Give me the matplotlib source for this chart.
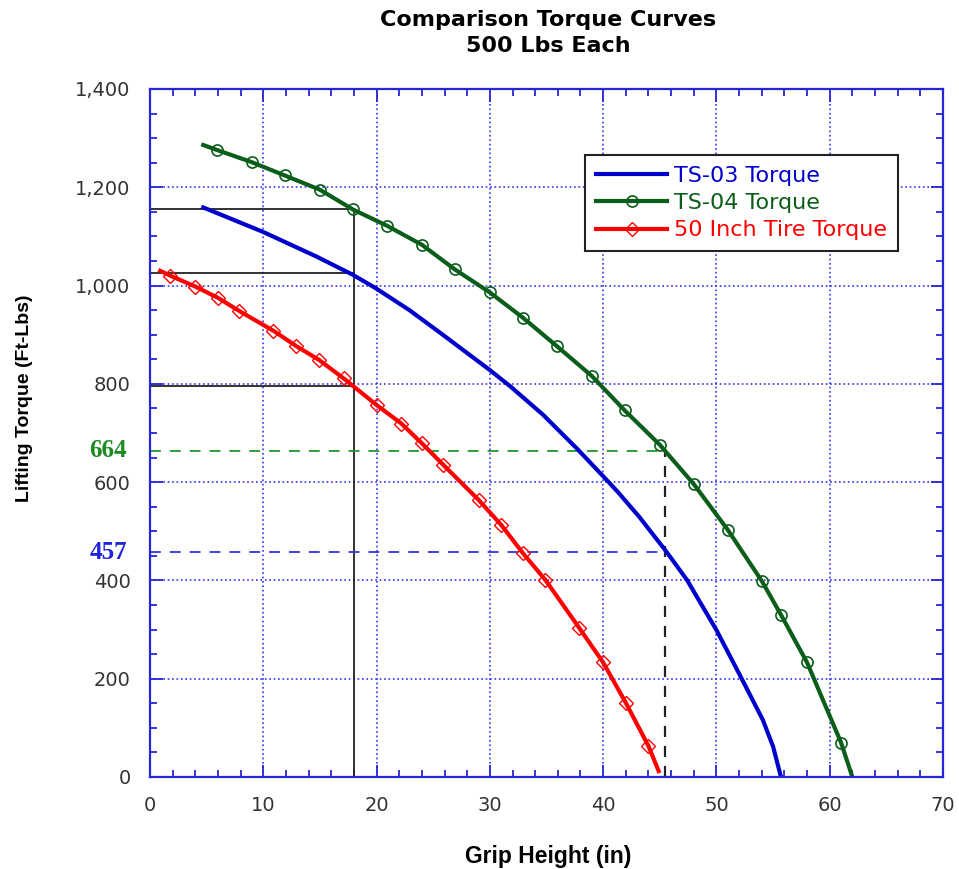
import numpy as np
import matplotlib
matplotlib.use('Agg')
from matplotlib import pyplot as plt
from matplotlib.ticker import MultipleLocator, FuncFormatter
import matplotlib.transforms as mtransforms

# TS-03 torque (no markers)
ts03_x = [4.7, 10, 14.7, 17.9, 19.9, 22.9, 25.9, 30, 31.8, 34.7, 37.7, 40, 41.3, 43.2, 45.6, 47.4, 50, 52.3, 54.1, 55.0, 55.7]
ts03_y = [1159, 1109, 1059, 1022, 995, 950, 899, 828, 795, 737, 668, 612, 580, 529, 458, 401, 299, 197, 116, 62, 0]

# TS-04 torque, first/last are line ends, the rest carry markers
ts04_x = [4.7, 5.9, 9, 11.9, 15, 17.9, 20.9, 24, 26.9, 30, 32.9, 35.9, 39, 41.9, 45, 48, 51, 54, 55.7, 58, 61, 62]
ts04_y = [1286, 1276, 1251, 1224, 1195, 1155, 1122, 1083, 1033, 986, 935, 877, 816, 746, 676, 596, 503, 399, 330, 233, 70, 0]

# 50 inch tire torque
tire_x = [0.9, 1.8, 4, 6, 7.9, 10.9, 12.9, 14.9, 17.1, 20, 22.2, 24, 25.9, 29, 31, 32.9, 34.9, 37.9, 40, 42, 44, 44.9]
tire_y = [1030, 1020, 998, 975, 948, 908, 877, 849, 811, 757, 719, 679, 635, 564, 513, 456, 401, 303, 233, 151, 63, 12]

# reference readings
grip_a = 18
grip_a_vals = [1155, 1025, 795]
grip_b = 45.5
val_ts04 = 664
val_ts03 = 457

BLUE = '#0000CC'
GREEN = '#0B5E1A'
RED = '#FF0000'
AXBLUE = '#2626D9'

fig = plt.figure(figsize=(9.59, 8.69), dpi=100)
ax = fig.add_axes([150 / 959, 1 - 777 / 869, 793 / 959, 688 / 869])

ax.set_xlim(0, 70)
ax.set_ylim(0, 1400)

# grid
ax.grid(True, which='major', color='#3333EE', linestyle=':', linewidth=1.2)
ax.set_axisbelow(True)

# reference lines
ax.plot([grip_a, grip_a], [0, max(grip_a_vals)], color='#222222', lw=1.3)
for v in grip_a_vals:
    ax.plot([0, grip_a], [v, v], color='#222222', lw=1.3)
ax.plot([0, grip_b], [val_ts04, val_ts04], color='#22962A', lw=1.3, dashes=(6, 5))
ax.plot([0, grip_b], [val_ts03, val_ts03], color='#3333E0', lw=1.3, dashes=(6, 5))
ax.plot([grip_b, grip_b], [0, val_ts04], color='#222222', lw=1.6, dashes=(5, 4))

# curves
ax.plot(ts03_x, ts03_y, color=BLUE, lw=3, label='TS-03 Torque')
ax.plot(ts04_x, ts04_y, color=GREEN, lw=3, marker='o', markersize=8,
        markerfacecolor='none', markeredgewidth=1.2,
        markevery=list(range(1, len(ts04_x) - 1)), label='TS-04 Torque')
ax.plot(tire_x, tire_y, color=RED, lw=3, marker='D', markersize=7,
        markerfacecolor='none', markeredgewidth=1.0,
        markevery=list(range(1, len(tire_x) - 1)), label='50 Inch Tire Torque')

# axes style
for s in ax.spines.values():
    s.set_color(AXBLUE)
    s.set_linewidth(1.6)
ax.xaxis.set_major_locator(MultipleLocator(10))
ax.xaxis.set_minor_locator(MultipleLocator(2))
ax.yaxis.set_major_locator(MultipleLocator(200))
ax.yaxis.set_minor_locator(MultipleLocator(50))
ax.yaxis.set_major_formatter(FuncFormatter(lambda v, p: '{:,.0f}'.format(v)))
ax.tick_params(which='both', direction='in', top=True, right=True, color=AXBLUE, width=1.3)
ax.tick_params(which='major', length=9, labelsize=14, labelcolor='#333333')
ax.tick_params(which='minor', length=5)
ax.tick_params(axis='x', pad=14)
ax.tick_params(axis='y', pad=14)
for lab in ax.get_xticklabels() + ax.get_yticklabels():
    lab.set_family('DejaVu Sans')

# highlighted values on the y axis
trans = mtransforms.blended_transform_factory(ax.transAxes, ax.transData)
ax.text(-0.029, val_ts04, str(val_ts04), transform=trans, ha='right', va='center',
        color='#1E8A22', fontsize=18, fontweight='bold', family='Liberation Serif')
ax.text(-0.029, val_ts03, str(val_ts03), transform=trans, ha='right', va='center',
        color='#2222DD', fontsize=18, fontweight='bold', family='Liberation Serif')

# legend
leg = ax.legend(loc='upper left', bbox_to_anchor=(435 / 793, 1 - 66 / 688),
                borderaxespad=0, fancybox=False, framealpha=1, edgecolor='#222222',
                prop={'family': 'DejaVu Sans', 'size': 16},
                handlelength=3.2, handletextpad=0.3, borderpad=0.5, labelspacing=0.32)
leg.get_frame().set_linewidth(1.5)
for txt, c in zip(leg.get_texts(), [BLUE, GREEN, RED]):
    txt.set_color(c)

# titles and labels
fig.text(548 / 959, 1 - 20 / 869, 'Comparison Torque Curves', ha='center', va='center',
         fontsize=16, fontweight='bold', family='DejaVu Sans')
fig.text(548 / 959, 1 - 46 / 869, '500 Lbs Each', ha='center', va='center',
         fontsize=16, fontweight='bold', family='DejaVu Sans')
fig.text(548 / 959, 1 - 857 / 869, 'Grip Height (in)', ha='center', va='center',
         fontsize=16.5, fontweight='bold', family='Liberation Sans')
fig.text(25 / 959, 1 - 398 / 869, 'Lifting Torque (Ft-Lbs)', ha='center', va='center',
         rotation=90, fontsize=14, fontweight='bold', family='Liberation Sans')

fig.savefig('out.png', dpi=100)
